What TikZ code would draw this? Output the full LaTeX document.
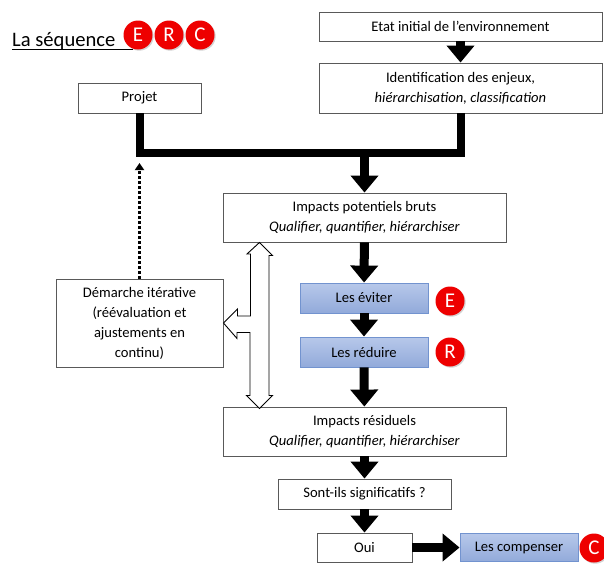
\documentclass[tikz,border=0pt]{standalone}
\usepackage{fontspec}
\setmainfont{Carlito}
\usetikzlibrary{arrows.meta,shadows}

\definecolor{boxline}{RGB}{89,89,89}
\definecolor{blueTop}{RGB}{183,200,234}
\definecolor{blueBot}{RGB}{146,170,218}
\definecolor{blueLine}{RGB}{114,147,207}
\definecolor{ercred}{RGB}{238,0,0}

\begin{document}
\begin{tikzpicture}[x=1pt,y=-1pt,
  font=\fontsize{14.6}{20}\selectfont,
  box/.style={draw=boxline,line width=0.9pt,fill=white,align=center,inner sep=2pt},
  bluebox/.style={draw=blueLine,line width=0.9pt,top color=blueTop,bottom color=blueBot,align=center,inner sep=2pt},
  erc/.style={circle,fill=ercred,text=white,minimum size=29pt,inner sep=0pt,
    font=\fontsize{21}{21}\selectfont,drop shadow={opacity=0.35,shadow xshift=1.2pt,shadow yshift=-1.2pt}},
  bigarrow/.style={line width=9pt,-{Triangle[width=27pt,length=17pt]}},
  thickline/.style={line width=8pt,line join=miter}]
\useasboundingbox (0,0) rectangle (604,563);
% 标题
\node[anchor=base west,inner sep=0pt,font=\fontsize{20.6}{20.6}\selectfont] (title) at (12,46) {La séquence};
\draw[line width=1pt] ([yshift=-3.5pt]title.base west) -- ++(121,0);
\node[erc] (tE) at (138,35) {E};
\node[erc] (tR) at (169,35) {R};
\node[erc] (tC) at (200,35) {C};
% 初始状态与议题
\node[box,minimum width=283pt,minimum height=29pt] (etat) at (460.5,26.5) {Etat initial de l’environnement};
\node[box,minimum width=283pt,minimum height=50pt] (ident) at (460.5,88) {Identification des enjeux,\\ \textit{hiérarchisation, classification}};
\node[box,minimum width=123pt,minimum height=30pt] (projet) at (139.5,98) {Projet};
\draw[bigarrow] (etat) -- (ident);
% 汇合线
\coordinate (merge) at (364.5,153);
\draw[thickline] (projet.south) |- (merge) -| (ident.south);
% 潜在影响
\node[box,minimum width=283pt,minimum height=49pt] (bruts) at (364.5,217.5) {Impacts potentiels bruts\\ \textit{Qualifier, quantifier, hiérarchiser}};
\draw[bigarrow] (merge) -- (bruts);
% 避免、减少
\node[bluebox,minimum width=128pt,minimum height=30pt] (eviter) at (364,298) {Les éviter};
\node[bluebox,minimum width=128pt,minimum height=30pt] (reduire) at (364,352) {Les réduire};
\node[erc] (cE) at (450,301) {E};
\node[erc] (cR) at (450,352) {R};
\draw[bigarrow] (bruts) -- (eviter);
\draw[bigarrow] (eviter) -- (reduire);
% 残余影响
\node[box,minimum width=283pt,minimum height=49pt] (residuels) at (364.5,431.5) {Impacts résiduels\\ \textit{Qualifier, quantifier, hiérarchiser}};
\draw[bigarrow] (reduire) -- (residuels);
\node[box,minimum width=173pt,minimum height=30pt] (signif) at (364.5,494) {Sont-ils significatifs ?};
\draw[bigarrow] (residuels) -- (signif);
\node[box,minimum width=95pt,minimum height=29pt] (oui) at (364.5,547.5) {Oui};
\draw[bigarrow] (signif) -- (oui);
% 补偿
\node[bluebox,minimum width=118pt,minimum height=28pt] (compenser) at (519,547.5) {Les compenser};
\node[erc] (cC) at (594,548) {C};
\draw[bigarrow] (oui) -- (compenser);
% 迭代过程
\node[box,minimum width=167pt,minimum height=88pt] (demarche) at (139.5,323) {Démarche itérative\\ (réévaluation et\\ ajustements en\\ continu)};
\coordinate (dotend) at (139.5,163);
\draw[line width=2.6pt,dash pattern=on 2.6pt off 2.4pt,-{Triangle[width=9pt,length=7pt]}] (demarche) -- (dotend);
% 空心双向箭头
\coordinate (dtop) at (bruts.south -| 259.5,0);
\draw[line width=0.9pt,fill=white,line join=miter] (dtop) -- ++(13,13) -- ++(-3.5,0) -- ++(0,140)
  -- ++(3.5,0) -- ++(-13,13) -- ++(-13,-13) -- ++(3.5,0) -- ++(0,-63) -- ++(-13,0) -- ++(0,6)
  -- (demarche.east) -- ++(14,-14) -- ++(0,7) -- ++(13,0) -- ++(0,-62) -- ++(-3.5,0) -- cycle;
\end{tikzpicture}
\end{document}
